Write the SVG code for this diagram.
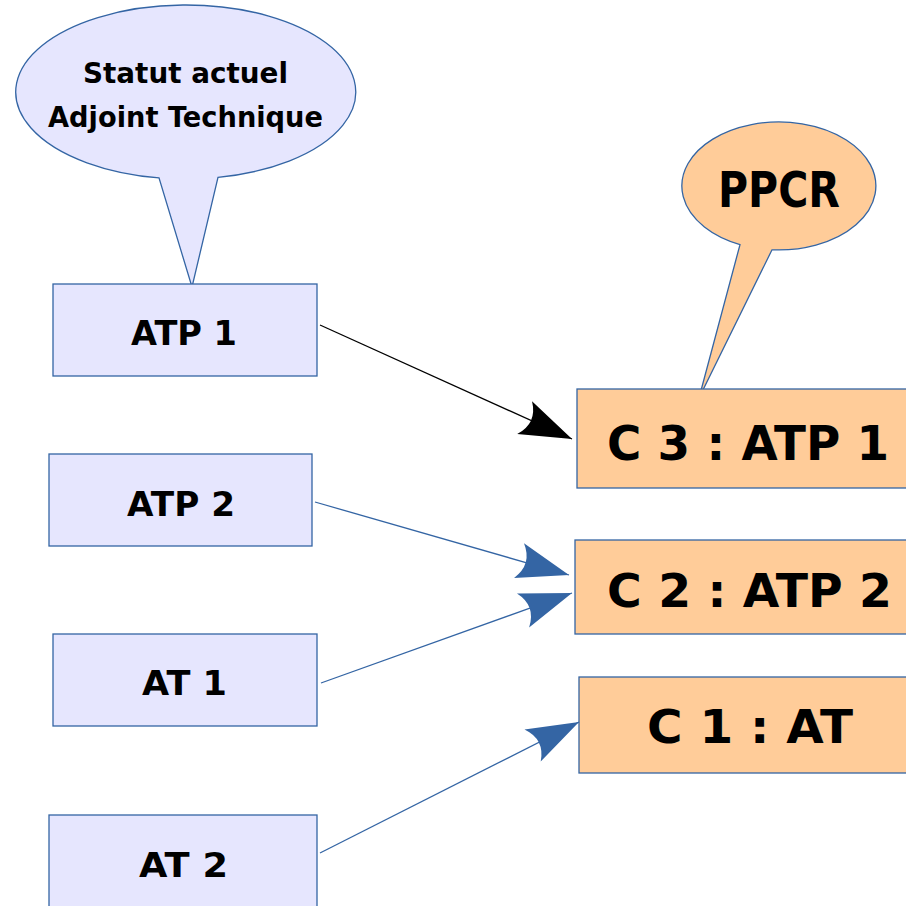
<svg xmlns="http://www.w3.org/2000/svg" width="906" height="906" viewBox="0 0 906 906">
  <style>
    .lav { fill: #e6e6fe; stroke: #3465a4; stroke-width: 1.3; }
    .org { fill: #ffcc99; stroke: #3465a4; stroke-width: 1.3; }
    .t { font-family: "DejaVu Sans", "Liberation Sans", sans-serif; font-weight: bold; fill: #000; }
    .blue { stroke: #3465a4; stroke-width: 1.3; fill: none; }
    .black { stroke: #000; stroke-width: 1.3; fill: none; }
  </style>
  <defs>
    <marker id="ahBlack" viewBox="-56 -22 58 44" refX="0" refY="0" markerWidth="58" markerHeight="44" markerUnits="userSpaceOnUse" orient="auto" overflow="visible">
      <path d="M0,0 L-52,-18 Q-38,0 -52,18 Z" fill="#000"/>
    </marker>
    <marker id="ahBlue" viewBox="-56 -22 58 44" refX="0" refY="0" markerWidth="58" markerHeight="44" markerUnits="userSpaceOnUse" orient="auto" overflow="visible">
      <path d="M0,0 L-52,-18 Q-38,0 -52,18 Z" fill="#3465a4"/>
    </marker>
  </defs>

  <g id="callout-statut">
    <path class="lav" d="M218,177.4 A170,87 0 1 0 159,177.9 L192,287 Z"/>
    <text class="t" x="83" y="83" font-size="29" textLength="205" lengthAdjust="spacingAndGlyphs">Statut actuel</text>
    <text class="t" x="48" y="127" font-size="29" textLength="275" lengthAdjust="spacingAndGlyphs">Adjoint Technique</text>
  </g>

  <g id="callout-ppcr">
    <path class="org" d="M772,249.8 A97,64 0 1 0 740,244.6 L699,398 Z"/>
    <text class="t" x="718" y="207" font-size="50" textLength="122" lengthAdjust="spacingAndGlyphs">PPCR</text>
  </g>

  <g id="node-atp1">
    <rect class="lav" x="53" y="284" width="264" height="92"/>
    <text class="t" x="131" y="345" font-size="34" textLength="106" lengthAdjust="spacingAndGlyphs">ATP 1</text>
  </g>
  <g id="node-atp2">
    <rect class="lav" x="49" y="454" width="263" height="92"/>
    <text class="t" x="127" y="516" font-size="34" textLength="108" lengthAdjust="spacingAndGlyphs">ATP 2</text>
  </g>
  <g id="node-at1">
    <rect class="lav" x="53" y="634" width="264" height="92"/>
    <text class="t" x="142" y="695" font-size="34" textLength="85" lengthAdjust="spacingAndGlyphs">AT 1</text>
  </g>
  <g id="node-at2">
    <rect class="lav" x="49" y="815" width="268" height="95"/>
    <text class="t" x="139" y="877" font-size="34" textLength="89" lengthAdjust="spacingAndGlyphs">AT 2</text>
  </g>

  <g id="node-c3">
    <rect class="org" x="577" y="389" width="340" height="99"/>
    <text class="t" x="607" y="460" font-size="48" textLength="282" lengthAdjust="spacingAndGlyphs">C 3 : ATP 1</text>
  </g>
  <g id="node-c2">
    <rect class="org" x="575" y="540" width="340" height="94"/>
    <text class="t" x="607" y="607" font-size="47" textLength="285" lengthAdjust="spacingAndGlyphs">C 2 : ATP 2</text>
  </g>
  <g id="node-c1">
    <rect class="org" x="579" y="677" width="340" height="96"/>
    <text class="t" x="647" y="743" font-size="47" textLength="206" lengthAdjust="spacingAndGlyphs">C 1 : AT</text>
  </g>

  <g id="connectors">
    <line class="black" x1="320" y1="325" x2="572" y2="439" marker-end="url(#ahBlack)"/>
    <line class="blue" x1="315" y1="502" x2="569" y2="575" marker-end="url(#ahBlue)"/>
    <line class="blue" x1="321" y1="683" x2="572" y2="593" marker-end="url(#ahBlue)"/>
    <line class="blue" x1="320" y1="853" x2="579" y2="722" marker-end="url(#ahBlue)"/>
  </g>
</svg>
